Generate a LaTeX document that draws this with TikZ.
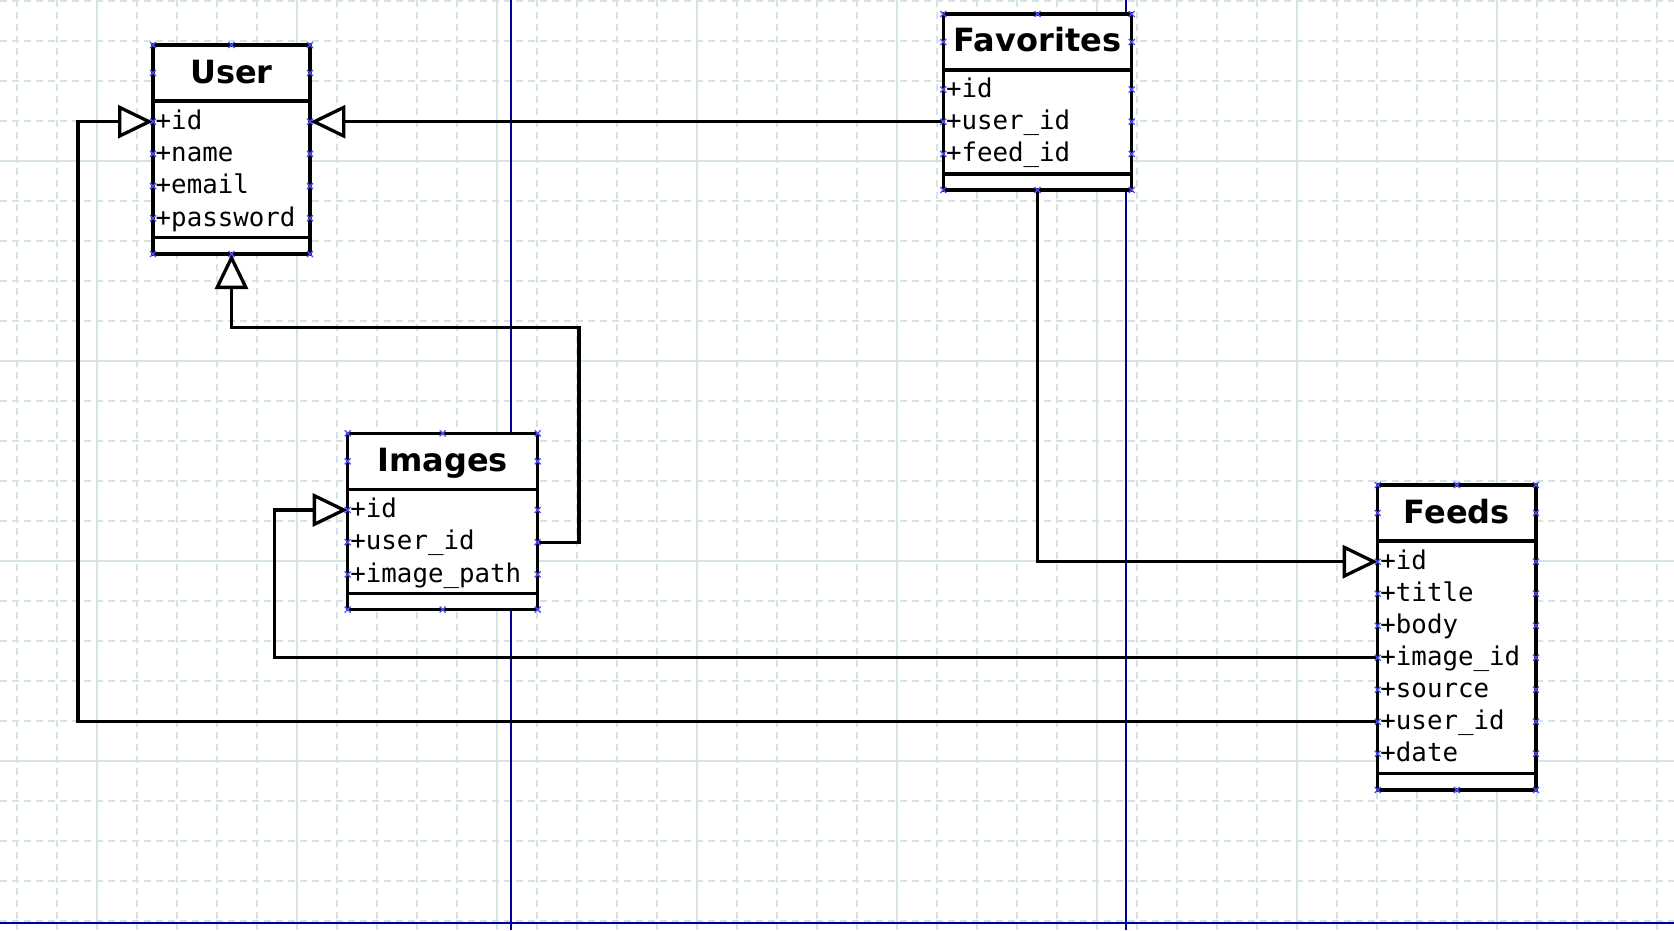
\documentclass[tikz,border=0pt]{standalone}
\usepackage{fontspec}
\usetikzlibrary{arrows.meta}
\newfontfamily\classfont{DejaVu Sans}[Scale=1]
\newfontfamily\attrfont{DejaVu Sans Mono}
\definecolor{gridgray}{RGB}{214,227,227}
\definecolor{guideblue}{RGB}{0,0,160}
\definecolor{cpblue}{RGB}{80,80,250}

\tikzset{
  minor/.style={gridgray, line width=1.5pt, dash pattern=on 7pt off 5pt},
  major/.style={gridgray, line width=1.5pt},
  guide/.style={guideblue, line width=2pt},
  box/.style={line width=3.3pt, fill=white},
  sep/.style={line width=3.3pt},
  title/.style={font=\classfont\bfseries\fontsize{32}{32}\selectfont, anchor=base, inner sep=0pt},
  row/.style={anchor=west, font=\attrfont\fontsize{25.8}{26}\selectfont, text width=#1, align=left,
    inner xsep=2.5pt, inner ysep=0pt, text height=23pt, text depth=7.6pt},
  inh/.style={-{Triangle[length=35pt,width=33pt,fill=white]}, line width=3.3pt},
  cp/.style={cpblue, line width=1.3pt}
}

\begin{document}
\begin{tikzpicture}[x=1pt,y=-1pt]
\useasboundingbox (0,0) rectangle (1674,930);
\fill[white] (0,0) rectangle (1674,930);

% grid
\foreach \gx in {17,57,...,1657} \draw[minor] (\gx,0) -- (\gx,930);
\foreach \gy in {1,41,...,921} \draw[minor] (0,\gy) -- (1674,\gy);
\foreach \gx in {97,297,...,1497} \draw[major] (\gx,0) -- (\gx,930);
\foreach \gy in {161,361,...,761} \draw[major] (0,\gy) -- (1674,\gy);

% page guides
\draw[guide] (510.8,0) -- (510.8,930);
\draw[guide] (1125.6,0) -- (1125.6,930);
\draw[guide] (0,922.7) -- (1674,922.7);

% User
\draw[box] (153,45) rectangle (310,254);
\draw[sep] (153,101) -- (310,101) (153,237.7) -- (310,237.7);
\node[title] (user) at (231.5,83.3) {User};
\node[row=152pt] (user-id) at (153,121.7) {+id};
\node[row=152pt] (user-name) at (153,153.9) {+name};
\node[row=152pt] (user-email) at (153,186.1) {+email};
\node[row=152pt] (user-password) at (153,218.3) {+password};
\coordinate (user-bot) at (231.5,254);

% Favorites
\draw[box] (943.3,14) rectangle (1131.7,190);
\draw[sep] (943.3,70) -- (1131.7,70) (943.3,174) -- (1131.7,174);
\node[title] (favorites) at (1037.5,51.7) {Favorites};
\node[row=183.4pt] (fav-id) at (943.3,89.5) {+id};
\node[row=183.4pt] (fav-userid) at (943.3,121.7) {+user\_id};
\node[row=183.4pt] (fav-feedid) at (943.3,153.9) {+feed\_id};
\coordinate (fav-bot) at (1037.7,190);

% Images
\draw[box] (347.7,433.3) rectangle (537.7,609.6);
\draw[sep] (347.7,489.3) -- (537.7,489.3) (347.7,593.3) -- (537.7,593.3);
\node[title] (images) at (442.7,471.7) {Images};
\node[row=185pt] (images-id) at (347.7,510) {+id};
\node[row=185pt] (images-userid) at (347.7,542.2) {+user\_id};
\node[row=185pt] (images-path) at (347.7,574.4) {+image\_path};

% Feeds
\draw[box] (1377.7,485) rectangle (1536,790);
\draw[sep] (1377.7,541) -- (1536,541) (1377.7,773.3) -- (1536,773.3);
\node[title] (feeds) at (1456.85,523.3) {Feeds};
\node[row=153.3pt] (feeds-id) at (1377.7,561.7) {+id};
\node[row=153.3pt] (feeds-title) at (1377.7,593.7) {+title};
\node[row=153.3pt] (feeds-body) at (1377.7,625.7) {+body};
\node[row=153.3pt] (feeds-imageid) at (1377.7,657.7) {+image\_id};
\node[row=153.3pt] (feeds-source) at (1377.7,689.7) {+source};
\node[row=153.3pt] (feeds-userid) at (1377.7,721.7) {+user\_id};
\node[row=153.3pt] (feeds-date) at (1377.7,753.7) {+date};

% relations
\coordinate (leftrail) at (78,400);
\coordinate (imgrail) at (274.4,600);
\coordinate (imgloop) at (579,327.7);
\draw[inh] (fav-userid.west) -- (user-id.east);
\draw[inh] (feeds-userid.west) -| (leftrail) |- (user-id.west);
\draw[inh] (feeds-imageid.west) -| (imgrail) |- (images-id.west);
\draw[inh] (images-userid.east) -| (imgloop) -| (user-bot);
\draw[inh] (fav-bot) |- (feeds-id.west);

% connection points
\foreach \mx in {153,310}
  \foreach \my in {45,73,121.7,153.9,186.1,218.3,254}
    \draw[cp] (\mx,\my) ++(-3,-3) -- ++(6,6) ++(-6,0) -- ++(6,-6);
\foreach \my in {45,254} \draw[cp] (231.5,\my) ++(-3,-3) -- ++(6,6) ++(-6,0) -- ++(6,-6);
\foreach \mx in {943.3,1131.7}
  \foreach \my in {14,42,89.5,121.7,153.9,190}
    \draw[cp] (\mx,\my) ++(-3,-3) -- ++(6,6) ++(-6,0) -- ++(6,-6);
\foreach \my in {14,190} \draw[cp] (1037.5,\my) ++(-3,-3) -- ++(6,6) ++(-6,0) -- ++(6,-6);
\foreach \mx in {347.7,537.7}
  \foreach \my in {433.3,461.3,510,542.2,574.4,609.6}
    \draw[cp] (\mx,\my) ++(-3,-3) -- ++(6,6) ++(-6,0) -- ++(6,-6);
\foreach \my in {433.3,609.6} \draw[cp] (442.7,\my) ++(-3,-3) -- ++(6,6) ++(-6,0) -- ++(6,-6);
\foreach \mx in {1377.7,1536}
  \foreach \my in {485,513,561.7,593.7,625.7,657.7,689.7,721.7,753.7,790}
    \draw[cp] (\mx,\my) ++(-3,-3) -- ++(6,6) ++(-6,0) -- ++(6,-6);
\foreach \my in {485,790} \draw[cp] (1456.85,\my) ++(-3,-3) -- ++(6,6) ++(-6,0) -- ++(6,-6);
\end{tikzpicture}
\end{document}
